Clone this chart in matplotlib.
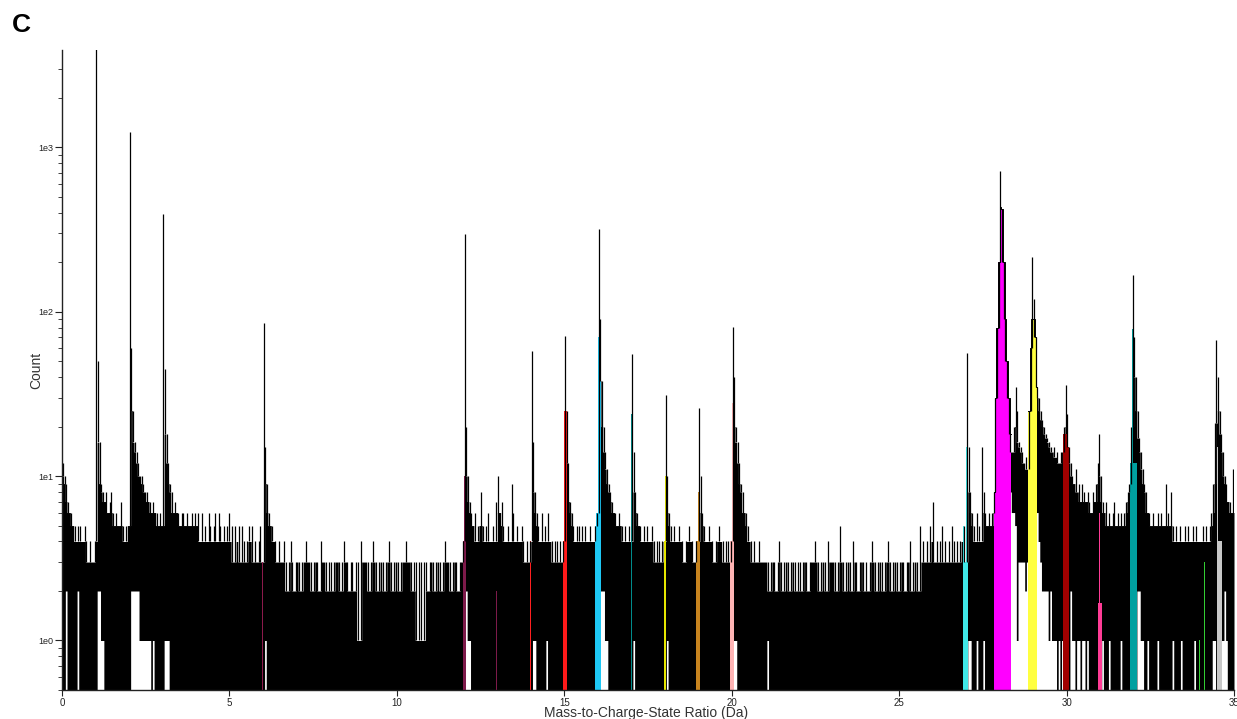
import numpy as np
import matplotlib
matplotlib.use("Agg")
import matplotlib.pyplot as plt
from matplotlib.ticker import FixedLocator, FixedFormatter, LogLocator, NullFormatter

plt.rcParams["font.family"] = ["Liberation Sans", "DejaVu Sans"]

# Spectrum sampled in 0.05 Da bins. Each string holds one dalton (20 bins),
# one base-36 digit per bin: 0-9 then a=10 ... z=35.
BIN_WIDTH = 0.05

# highest count reached inside each bin
upper_rows = [
    "ca976655455445434334",  # 0
    "00g98786786565575455",  # 1
    "00pgecaa988776766565",  # 2
    "00ic9867665665655656",  # 3
    "56464546545646545456",  # 4
    "45354535434545343453",  # 5
    "0f965544343343234323",  # 6
    "33233433323332433323",  # 7
    "32333323433233233143",  # 8
    "33323433233323343233",  # 9
    "32333433323313313323",  # 10
    "33233323433323332334",  # 11
    "0ka76564558545644547",  # 12
    "a6754454964544543434",  # 13
    "0g865464546443443434",  # 14
    "0pc76545545454454456",  # 15
    "000keb98766565545454",  # 16
    "0e865545454454344344",  # 17
    "va654544544344544344",  # 18
    "qa654454434454434434",  # 19
    "00kgc986654434334333",  # 20
    "33233323432333233323",  # 21
    "32333233343323332433",  # 22
    "33235332333243323332",  # 23
    "32343323332334323332",  # 24
    "33323342333253434354",  # 25
    "73434534343543434453",  # 26
    "0f8654654f8656568000",  # 27
    "00000uiekzpgfecdb000",  # 28
    "00zupmkihgfefdeceek0",  # 29
    "00ca9b897987876879ci",  # 30
    "a76756567565656789k0",  # 31
    "00pheb98665655656559",  # 32
    "65854545445454454544",  # 33
    "45454569l00piea9776b",  # 34
]

# lowest count reached inside each bin (0 = trace drops to the axis)
lower_rows = [
    "00200000020000000000",  # 0
    "02211000000000000000",  # 1
    "02222211111110100000",  # 2
    "01110000000000000000",  # 3
    "00000000000000000000",  # 4
    "00000000000000000000",  # 5
    "01000000000000000000",  # 6
    "00000000000000000000",  # 7
    "00000000000000000000",  # 8
    "00000000000000000000",  # 9
    "00000000000000000000",  # 10
    "00000000000000000000",  # 11
    "02110000000000000000",  # 12
    "00000000000000000000",  # 13
    "01100000010000000000",  # 14
    "00000000000000000000",  # 15
    "02221100000000000000",  # 16
    "01000000000000000000",  # 17
    "01000000000000000000",  # 18
    "00000000000000000000",  # 19
    "01100000000000000000",  # 20
    "01000000000000000000",  # 21
    "00000000000000000000",  # 22
    "00000000000000000000",  # 23
    "00000000000000000000",  # 24
    "00000000000000000000",  # 25
    "00000000000000000000",  # 26
    "01100010001000000000",  # 27
    "00000086651333323400",  # 28
    "00643222212111010110",  # 29
    "00211011011010000000",  # 30
    "01000100000010000000",  # 31
    "00221100100000100000",  # 32
    "00010000100000001000",  # 33
    "00000001101111210000",  # 34
]

# peak bins with counts above the digit range: first bin (Da) and counts
peak_start = [1.00, 2.00, 3.00, 6.00, 12.00, 14.00, 15.00, 16.00, 17.00,
              20.00, 27.00, 27.85, 28.85, 29.95, 31.95, 34.45]
peak_counts = [
    [4500, 50],
    [1230, 60],
    [395, 45],
    [85],
    [295],
    [58],
    [71],
    [320, 90, 38],
    [55],
    [81, 40],
    [56],
    [30, 80, 200, 720, 420, 200, 90, 50],
    [25, 60, 216, 120, 70],
    [36, 24, 15],
    [166, 70, 40],
    [67, 40],
]

# ranged ions: m/z window, fill colour and the highest count the fill reaches
range_lo = [5.98, 11.97, 12.97, 13.98, 14.95, 15.93, 16.98, 17.97, 18.94,
            19.94, 26.90, 27.83, 28.86, 29.89, 30.93, 30.96, 31.90, 31.95,
            33.96, 34.11, 34.48, 34.50]
range_hi = [6.01, 12.07, 13.00, 14.01, 15.08, 16.09, 17.01, 18.04, 19.04,
            20.08, 27.07, 28.33, 29.13, 30.08, 31.05, 31.00, 32.09, 31.99,
            33.99, 34.14, 34.64, 34.53]
range_color = ["#8b1a4b", "#7d1a4a", "#7d1a4a", "#ff2020", "#ff1a1a",
               "#1ec8f5", "#008b8b", "#e6e600", "#c8841e", "#ffb4b4",
               "#40e8e8", "#ff00ff", "#ffff40", "#a00000", "#ff3c96",
               "#ff3c96", "#00a0a0", "#00a0a0", "#32cd32", "#32cd32",
               "#c8c8c8", "#c8c8c8"]
range_cap = [10, 10, 2, 26, 25, 70, 24, 10, 8, 28, 15, 430, 90, 18, 1.7, 6,
             12, 78, 1, 3, 4, 15]

AXIS_FLOOR = 0.2  # zero counts are drawn below the visible range


def decode(rows):
    return np.array([int(ch, 36) for row in rows for ch in row], dtype=float)


upper = decode(upper_rows)
lower = decode(lower_rows)
for start, counts in zip(peak_start, peak_counts):
    i0 = int(round(start / BIN_WIDTH))
    upper[i0:i0 + len(counts)] = counts

lower = np.where(lower > 0, lower, AXIS_FLOOR)
edges = np.round(np.arange(len(upper) + 1) * BIN_WIDTH, 4)
centers = edges[:-1] + BIN_WIDTH / 2

# the solid body of the trace reaches the lowest of neighbouring maxima;
# anything above it shows as a thin spike
padded = np.pad(upper, 1, mode="edge")
body = np.minimum(np.minimum(padded[:-2], padded[1:-1]), padded[2:])
body = np.maximum(body, lower)


def extend(values):
    return np.append(values, values[-1])


fig = plt.figure(figsize=(12.37, 7.19), dpi=100)
ax = fig.add_axes([62 / 1237, 29 / 719, 1172 / 1237, 640 / 719])

ax.fill_between(edges, extend(lower), extend(body), step="post",
                color="black", linewidth=0)
spiky = upper > body
ax.vlines(centers[spiky], body[spiky], upper[spiky], color="black",
          linewidth=0.9)

for lo, hi, col, cap in zip(range_lo, range_hi, range_color, range_cap):
    i_lo = int(np.floor(lo / BIN_WIDTH))
    i_hi = int(np.ceil(hi / BIN_WIDTH))
    xs = np.clip(edges[i_lo:i_hi + 1], lo, hi)
    ys = np.minimum(upper[i_lo:i_hi], cap)
    ax.fill_between(xs, AXIS_FLOOR, extend(ys), step="post", color=col,
                    linewidth=0)
    if hi - lo > 0.2:
        ax.step(xs, extend(ys), where="post", color="black", linewidth=0.7)

ax.set_yscale("log")
ax.set_xlim(0, 35)
ax.set_ylim(0.5, 3900)

for side in ("top", "right"):
    ax.spines[side].set_visible(False)
for side in ("left", "bottom"):
    ax.spines[side].set_linewidth(1.0)
    ax.spines[side].set_color("#222222")

ax.set_xticks(np.arange(0, 36, 5))
ax.xaxis.set_tick_params(labelsize=7, length=4, width=0.8, pad=1.5,
                         colors="#222222")
ax.yaxis.set_major_locator(FixedLocator([1, 10, 100, 1000]))
ax.yaxis.set_major_formatter(FixedFormatter(["1e0", "1e1", "1e2", "1e3"]))
ax.yaxis.set_minor_locator(LogLocator(base=10, subs=np.arange(2, 10)))
ax.yaxis.set_minor_formatter(NullFormatter())
ax.yaxis.set_tick_params(which="major", labelsize=6.5, length=5, width=0.8,
                         pad=1, colors="#222222")
ax.yaxis.set_tick_params(which="minor", length=3, width=0.6,
                         colors="#222222")

fig.text(646 / 1237, 1 - 712.5 / 719, "Mass-to-Charge-State Ratio (Da)",
         fontsize=10, color="#333333", ha="center", va="center")
fig.text(36 / 1237, 1 - 370 / 719, "Count", fontsize=10, color="#333333",
         rotation=90, ha="center", va="center")
fig.text(21 / 1237, 1 - 25 / 719, "C", fontsize=19, fontweight="bold",
         ha="center", va="center")

fig.savefig("out.png", dpi=100)
